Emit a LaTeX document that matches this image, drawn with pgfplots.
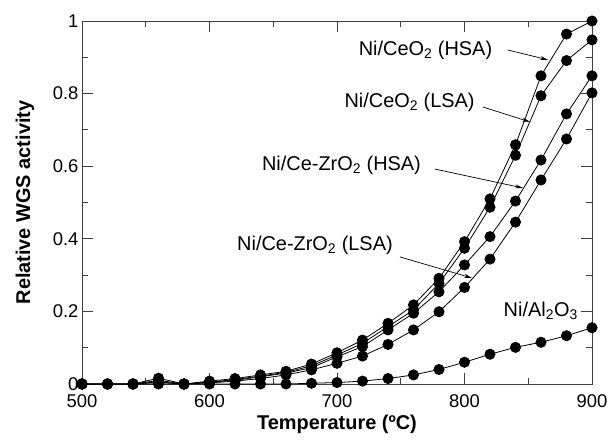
\documentclass[border=0pt]{standalone}
\usepackage{pgfplots}
\pgfplotsset{compat=1.18}
\usepackage{fontspec}
\setmainfont{Liberation Sans}
\usetikzlibrary{arrows.meta}

\begin{document}
\begin{tikzpicture}
\path[use as bounding box] (-82bp,-61bp) rectangle (527bp,384bp);
\begin{axis}[
  at={(0,0)},anchor=south west,
  scale only axis,width=510bp,height=363bp,
  xmin=500,xmax=900,ymin=0,ymax=1,
  xtick={500,600,700,800,900},minor xtick={550,650,750,850},
  ytick={0,0.2,0.4,0.6,0.8,1},minor ytick={0.1,0.3,0.5,0.7,0.9},
  tick align=inside,major tick length=11bp,minor tick length=6bp,
  every tick/.style={black!75,line width=0.8bp},
  axis line style={black!75,line width=0.9bp},
  /pgf/number format/assume math mode=true,
  tick label style={font=\fontsize{18.5}{20}\selectfont},
  xticklabel style={yshift=-7bp},
  xlabel={\bfseries Temperature (ºC)},
  ylabel={\bfseries Relative WGS activity},
  label style={font=\fontsize{20}{22}\selectfont},
  xlabel style={at={(axis description cs:0.5,-0.11)},anchor=center},
  ylabel style={at={(axis description cs:-0.112,0.5)},anchor=center},
  clip=false,
  ser/.style={black,line width=0.8bp,mark=*,mark size=5.1bp,
    mark options={fill=black,draw=black,solid}},
]
% Ni/CeO2 (HSA)
\addplot[ser] coordinates {(500,0) (520,0) (540,0) (560,0.016) (580,0) (600,0.008) (620,0.015)
 (640,0.025) (660,0.035) (680,0.055) (700,0.086) (720,0.121) (740,0.167) (760,0.218)
 (780,0.291) (800,0.392) (820,0.510) (840,0.659) (860,0.849) (880,0.964) (900,1.0)};
% Ni/CeO2 (LSA)
\addplot[ser] coordinates {(500,0) (520,0) (540,0) (560,0.006) (580,0) (600,0.005) (620,0.012)
 (640,0.022) (660,0.032) (680,0.050) (700,0.080) (720,0.112) (740,0.158) (760,0.204)
 (780,0.277) (800,0.374) (820,0.487) (840,0.630) (860,0.794) (880,0.891) (900,0.948)};
% Ni/Ce-ZrO2 (HSA)
\addplot[ser] coordinates {(500,0) (520,0) (540,0) (560,0.010) (580,0) (600,0.005) (620,0.010)
 (640,0.020) (660,0.030) (680,0.045) (700,0.075) (720,0.103) (740,0.149) (760,0.195)
 (780,0.254) (800,0.328) (820,0.406) (840,0.504) (860,0.617) (880,0.744) (900,0.849)};
% Ni/Ce-ZrO2 (LSA)
\addplot[ser] coordinates {(500,0) (520,0) (540,0) (560,0.004) (580,0) (600,0.003) (620,0.008)
 (640,0.015) (660,0.025) (680,0.039) (700,0.057) (720,0.077) (740,0.109) (760,0.149)
 (780,0.199) (800,0.266) (820,0.344) (840,0.446) (860,0.562) (880,0.675) (900,0.802)};
% Ni/Al2O3
\addplot[ser] coordinates {(500,0) (520,0) (540,0) (560,0) (580,0) (600,0) (620,0)
 (640,0) (660,0) (680,0.002) (700,0.004) (720,0.008) (740,0.015) (760,0.025)
 (780,0.040) (800,0.060) (820,0.082) (840,0.101) (860,0.115) (880,0.133) (900,0.155)};

\begin{scope}[font=\fontsize{20}{22}\selectfont]
\node at (axis cs:769.4,0.920) {Ni/CeO\textsubscript{2} (HSA)};
\node at (axis cs:756.9,0.777) {Ni/CeO\textsubscript{2} (LSA)};
\node at (axis cs:703.5,0.603) {Ni/Ce-ZrO\textsubscript{2} (HSA)};
\node at (axis cs:682.7,0.383) {Ni/Ce-ZrO\textsubscript{2} (LSA)};
\node[anchor=east,inner sep=0pt] at (axis cs:889,0.201) {Ni/Al\textsubscript{2}O\textsubscript{3}};
\end{scope}
\begin{scope}[-{Stealth[length=8bp,width=4bp]},line width=0.7bp]
\draw (axis cs:834.1,0.920) -- (axis cs:865.5,0.893);
\draw (axis cs:814.5,0.763) -- (axis cs:851.4,0.722);
\draw (axis cs:776.9,0.592) -- (axis cs:845.9,0.540);
\draw (axis cs:749.4,0.350) -- (axis cs:805.9,0.292);
\end{scope}
\end{axis}
\end{tikzpicture}
\end{document}
